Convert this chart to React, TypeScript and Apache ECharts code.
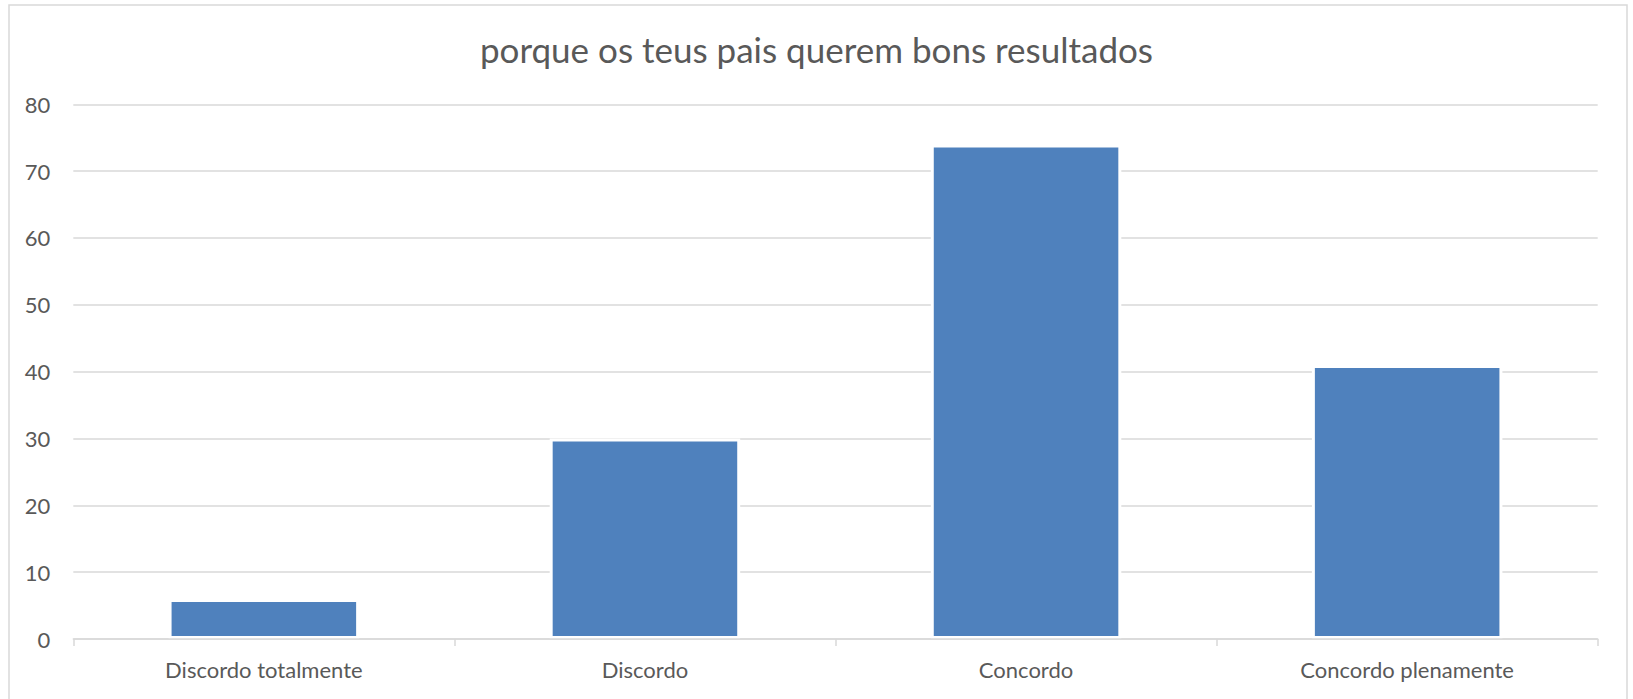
import React, { useEffect, useRef } from "react";
import * as echarts from "echarts";

const title = "porque os teus pais querem bons resultados";
const categories = ["Discordo totalmente", "Discordo", "Concordo", "Concordo plenamente"];
const values = [6, 30, 74, 41];
const yTicks = { min: 0, max: 80, interval: 10 };

export default function App() {
  const ref = useRef<HTMLDivElement>(null);
  useEffect(() => {
    if (!ref.current) return;
    const chart = echarts.init(ref.current, undefined, { renderer: "svg" });
    const font = "Lato, 'Open Sans', sans-serif";
    chart.setOption({
      animation: false,
      backgroundColor: "#ffffff",
      title: {
        text: title,
        left: "center",
        top: 26,
        textStyle: { color: "#595959", fontSize: 35, fontWeight: "normal", fontFamily: font },
      },
      graphic: [
        {
          type: "rect",
          shape: { x: 9, y: 5, width: 1618, height: 710 },
          style: { fill: "none", stroke: "#d9d9d9", lineWidth: 1.5 },
          silent: true,
        },
      ],
      grid: { left: 73.3, right: 35.3, top: 104.3, bottom: 60, containLabel: false },
      xAxis: {
        type: "category",
        data: categories,
        z: 3,
        axisLine: { show: true, lineStyle: { color: "#d9d9d9", width: 1.5 } },
        axisTick: { show: true, length: 7, lineStyle: { color: "#d9d9d9", width: 1.5 } },
        axisLabel: { color: "#595959", fontSize: 22, fontFamily: font, margin: 19 },
      },
      yAxis: {
        type: "value",
        min: yTicks.min,
        max: yTicks.max,
        interval: yTicks.interval,
        axisLine: { show: false },
        axisTick: { show: false },
        splitLine: { lineStyle: { color: "#d9d9d9", width: 1.5 } },
        axisLabel: { color: "#595959", fontSize: 22, fontFamily: font, margin: 23 },
      },
      series: [
        {
          type: "bar",
          data: values,
          barWidth: "50%",
          itemStyle: { color: "#4f81bd", borderColor: "#ffffff", borderWidth: 3 },
        },
      ],
    });
    return () => chart.dispose();
  }, []);
  return (
    <div
      ref={ref}
      style={{ position: "fixed", left: 0, top: 0, width: 1633, height: 699 }}
    />
  );
}
